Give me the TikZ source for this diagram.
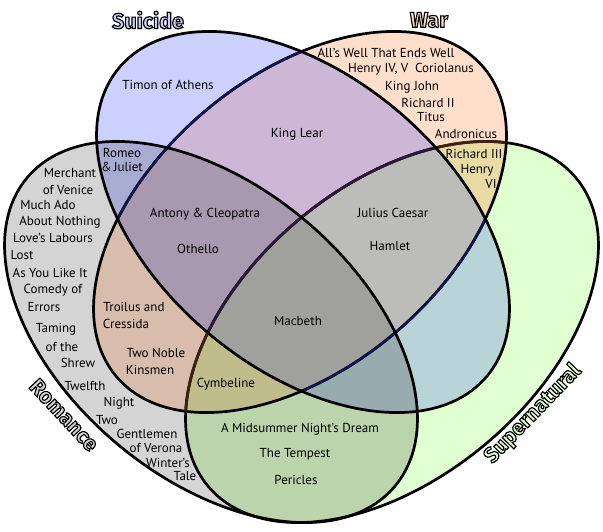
\documentclass[tikz,border=0pt]{standalone}
\usepackage{fontspec}
\setmainfont{PT Sans}
\newfontfamily\titlefont{Fira Sans}
\usetikzlibrary{positioning}
\definecolor{suiC}{RGB}{204,208,255}
\definecolor{warC}{RGB}{255,222,204}
\definecolor{romC}{RGB}{212,212,212}
\definecolor{supC}{RGB}{224,255,208}
\definecolor{swC}{RGB}{205,183,215}
\definecolor{srC}{RGB}{168,172,210}
\definecolor{snC}{RGB}{184,212,216}
\definecolor{wrC}{RGB}{216,188,172}
\definecolor{wnC}{RGB}{232,220,164}
\definecolor{rnC}{RGB}{188,212,172}
\definecolor{swrC}{RGB}{168,152,176}
\definecolor{swnC}{RGB}{188,188,184}
\definecolor{srnC}{RGB}{152,172,176}
\definecolor{wrnC}{RGB}{192,188,140}
\definecolor{allC}{RGB}{160,160,156}
\definecolor{navyline}{RGB}{16,20,72}
\definecolor{brownline}{RGB}{60,32,16}
\definecolor{plumline}{RGB}{44,24,60}
\newcommand{\venn}{(0,0) ellipse [x radius=240pt, y radius=146pt]}
% outlined heading: fill in #1, stroke in black
\newcommand{\headtxt}[2]{\textcolor{#1}{\special{pdf:literal direct 2 Tr 1.15 w 0 0 0 RG}#2\special{pdf:literal direct 0 Tr}}}

\begin{document}
\begin{tikzpicture}[x=1pt,y=-1pt,
  sui/.style={shift={(303,222)},rotate=-40},
  war/.style={shift={(300,222)},rotate=40},
  rom/.style={shift={(211,332)},rotate=-40},
  sup/.style={shift={(392,332)},rotate=40},
  rim/.style={line width=2.7pt},
  play/.style={font=\fontsize{13}{15}\selectfont,inner sep=0pt},
  head/.style={font=\titlefont\bfseries\fontsize{21.5}{23}\selectfont,inner sep=0pt}]
  \useasboundingbox (0,0) rectangle (603,531);
  % single sets
  \fill[supC,sup] \venn; \fill[romC,rom] \venn;
  \fill[warC,war] \venn; \fill[suiC,sui] \venn;
  % pairs
  \begin{scope}
    \clip[sui] \venn;
    \fill[swC,war] \venn; \fill[srC,rom] \venn; \fill[snC,sup] \venn;
  \end{scope}
  \begin{scope}
    \clip[war] \venn;
    \fill[wrC,rom] \venn; \fill[wnC,sup] \venn;
  \end{scope}
  \begin{scope}
    \clip[rom] \venn; \fill[rnC,sup] \venn;
  \end{scope}
  % triples
  \begin{scope}
    \clip[sui] \venn; \clip[war] \venn;
    \fill[swrC,rom] \venn; \fill[swnC,sup] \venn;
  \end{scope}
  \begin{scope}
    \clip[sui] \venn; \clip[rom] \venn; \fill[srnC,sup] \venn;
  \end{scope}
  \begin{scope}
    \clip[war] \venn; \clip[rom] \venn; \fill[wrnC,sup] \venn;
  \end{scope}
  \begin{scope}
    \clip[sui] \venn; \clip[war] \venn; \clip[rom] \venn; \fill[allC,sup] \venn;
  \end{scope}
  % outlines
  \draw[rim,sup] \venn; \draw[rim,war] \venn;
  \begin{scope}
    \clip[war] \venn; \draw[rim,brownline,sup] \venn;
  \end{scope}
  \begin{scope}
    \clip[sui] \venn; \draw[rim,navyline,war] \venn; \draw[rim,plumline,sup] \venn;
  \end{scope}
  \draw[rim,rom] \venn; \draw[rim,sui] \venn;

  \node[play] (timon) at (168,85) {Timon of Athens};
  \node[play] (lear) at (297,134) {King Lear};
  \node[play] (allswell) at (386,53) {All’s Well That Ends Well};
  \node[play] (henryiv) at (411,69) {Henry IV, V\ \ Coriolanus};
  \node[play] (john) at (412,87) {King John};
  \node[play] (richardii) at (428,103) {Richard II};
  \node[play] (titus) at (431,117) {Titus};
  \node[play] (andronicus) at (466,134) {Andronicus};
  \node[play] (richardiii) at (474,154) {Richard III};
  \node[play] (henryvi) at (477,170) {Henry};
  \node[play] (vi) at (491,184) {VI};
  \node[play] (romeo) at (122,153) {Romeo};
  \node[play] (juliet) at (122,167) {\&\,Juliet};
  \node[play] (merchant) at (70,173) {Merchant};
  \node[play] (venice) at (68,190) {of Venice};
  \node[play] (muchado) at (48,205) {Much Ado};
  \node[play] (nothing) at (60,222) {About Nothing};
  \node[play] (loves) at (53,238) {Love’s Labours};
  \node[play] (lost) at (22,255) {Lost};
  \node[play] (asyou) at (50,273) {As You Like It};
  \node[play] (comedy) at (53,290) {Comedy of};
  \node[play] (errors) at (44,307) {Errors};
  \node[play] (taming) at (56,329) {Taming};
  \node[play] (ofthe) at (62,347) {of the};
  \node[play] (shrew) at (78,363) {Shrew};
  \node[play] (twelfth) at (85,386) {Twelfth};
  \node[play] (night) at (119,403) {Night};
  \node[play] (two) at (107,420) {Two};
  \node[play] (gentlemen) at (147,434) {Gentlemen};
  \node[play] (verona) at (156,448) {of Verona};
  \node[play] (winters) at (168,463) {Winter’s};
  \node[play] (tale) at (185,476) {Tale};
  \node[play] (antony) at (205,214) {Antony \& Cleopatra};
  \node[play] (othello) at (198,249) {Othello};
  \node[play] (caesar) at (393,213) {Julius Caesar};
  \node[play] (hamlet) at (390,246) {Hamlet};
  \node[play] (macbeth) at (298,321) {Macbeth};
  \node[play] (troilus) at (134,307) {Troilus and};
  \node[play] (cressida) at (126,324) {Cressida};
  \node[play] (noble) at (156,353) {Two Noble};
  \node[play] (kinsmen) at (150,370) {Kinsmen};
  \node[play] (cymbeline) at (226,384) {Cymbeline};
  \node[play] (dream) at (300,429) {A Midsummer Night’s Dream};
  \node[play] (tempest) at (295,454) {The Tempest};
  \node[play] (pericles) at (296,480) {Pericles};

  \node[head] (suicide) at (148,20) {\headtxt{suiC}{Suicide}};
  \node[head] (war) at (429,20) {\headtxt{warC}{War}};
  \node[head,rotate=-47] (romance) at (64,415) {\headtxt{romC}{Romance}};
  \node[head,rotate=46] (supernatural) at (533,414) {\headtxt{supC}{Supernatural}};
\end{tikzpicture}
\end{document}
